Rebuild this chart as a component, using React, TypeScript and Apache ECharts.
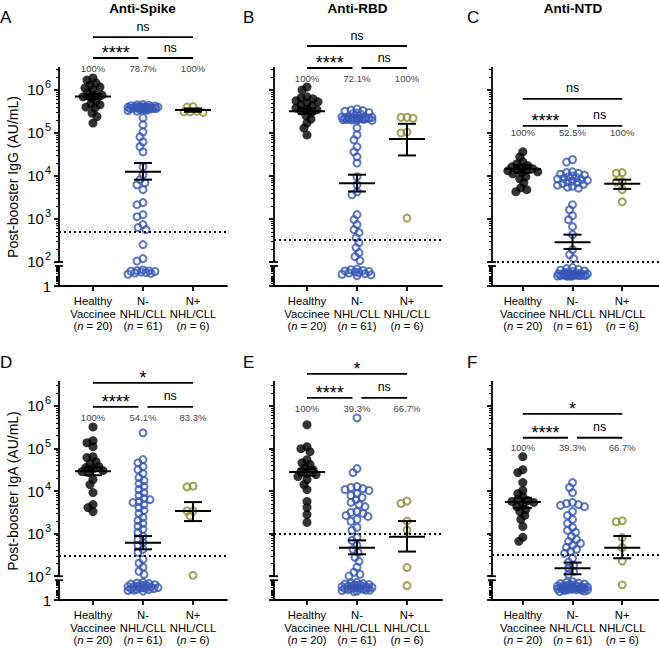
import React, { useEffect, useRef } from "react";
import * as echarts from "echarts";

const FONT = "'Liberation Sans', Arial, Helvetica, sans-serif";
const BLUE = "#3756b5";
const OLIVE = "#8c8c2a";

// ---------- categories / labels ----------
const groupLines = [["Healthy", "Vaccinee"], ["N-", "NHL/CLL"], ["N+", "NHL/CLL"]];
const groupN = [20, 61, 6];
const panelLetters = ["A", "B", "C", "D", "E", "F"];
const panelTitles = ["Anti-Spike", "Anti-RBD", "Anti-NTD"];
const yTitles = ["Post-booster IgG (AU/mL)", "Post-booster IgA (AU/mL)"];
const yTickValues = [1, 1e2, 1e3, 1e4, 1e5, 1e6];

// ---------- A: IgG anti-Spike ----------
const igGSpikeHealthy = [1.9e6, 1.7e6, 1.45e6, 1.3e6, 1.17e6, 1.11e6, 1.0e6, 8.5e5, 7.7e5, 7.6e5, 6.9e5, 6.5e5, 5.6e5, 4.7e5, 4.5e5, 4.0e5, 3.8e5, 2.9e5, 2.4e5, 1.7e5];
const igGSpikeNeg = [4.6e5, 4.5e5, 4.4e5, 4.3e5, 4.2e5, 4.2e5, 4.1e5, 4.1e5, 4.0e5, 4.0e5, 4.0e5, 3.9e5, 3.9e5, 3.9e5, 3.8e5, 3.8e5, 3.8e5, 3.8e5, 3.7e5, 3.7e5, 3.7e5, 3.6e5, 3.6e5, 3.5e5, 3.5e5, 3.4e5, 3.3e5, 3.2e5,
  2.24e5, 1.54e5, 1.06e5, 8.1e4, 6.2e4, 4.8e4, 3.65e4, 1.63e4, 1.07e4, 8.2e3, 6.95e3, 6.25e3, 4.8e3, 2.4e3, 2.15e3, 1.26e3, 1.13e3, 740, 630, 565,
  254, 120, 105, 40, 35, 32, 30, 28, 25, 22, 20, 18, 15];
const igGSpikePos = [4.0e5, 3.1e5, 3.0e5, 3.2e5, 3.1e5, 4.1e5];
const igGSpikeErr = [[7.0e5, 6.1e5, 8.0e5], [1.25e4, 8.2e3, 2.0e4], [3.4e5, 3.1e5, 3.7e5]]; // [mean, lower, upper]

// ---------- B: IgG anti-RBD ----------
const igGRbdHealthy = [1.17e6, 1.0e6, 6.9e5, 6.5e5, 6.2e5, 5.6e5, 5.3e5, 5.0e5, 4.5e5, 4.25e5, 3.8e5, 3.6e5, 3.45e5, 3.25e5, 2.9e5, 2.5e5, 2.1e5, 1.7e5, 1.3e5, 9.0e4];
const igGRbdNeg = [3.6e5, 3.4e5, 3.3e5, 3.2e5, 3.0e5, 2.9e5, 2.8e5, 2.7e5,
  2.4e5, 2.35e5, 2.3e5, 2.3e5, 2.25e5, 2.25e5, 2.2e5, 2.2e5, 2.2e5, 2.15e5, 2.15e5, 2.1e5, 2.1e5, 2.1e5, 2.05e5, 2.05e5, 2.0e5, 2.0e5, 1.95e5,
  1.31e5, 9.0e4, 6.9e4, 4.75e4, 3.64e4, 2.79e4, 2.0e4, 9.6e3, 6.25e3, 4.3e3, 3.66e3, 1.26e3, 964, 738, 565, 481, 368,
  282, 216, 165, 133, 108, 50, 42, 36, 32, 28, 25, 22, 20, 17, 15, 13, 11];
const igGRbdPos = [2.3e5, 2.2e5, 2.3e5, 1.0e5, 1.05e5, 1.05e3];
const igGRbdErr = [[3.2e5, 2.8e5, 3.7e5], [6.8e3, 4.35e3, 1.07e4], [7.2e4, 3.0e4, 1.63e5]];

// ---------- C: IgG anti-NTD ----------
const igGNtdHealthy = [3.65e4, 2.79e4, 2.13e4, 1.92e4, 1.73e4, 1.63e4, 1.55e4, 1.47e4, 1.39e4, 1.36e4, 1.32e4, 1.25e4, 1.19e4, 1.12e4, 9.6e3, 8.6e3, 6.95e3, 5.3e3, 4.8e3, 4.3e3];
const igGNtdNeg = [2.4e4, 2.1e4, 1.25e4, 1.2e4, 1.15e4, 1.1e4, 1.05e4, 1.0e4, 9.6e3, 9.2e3, 8.8e3, 8.5e3, 8.2e3, 7.9e3, 7.6e3, 7.3e3, 7.0e3, 6.7e3, 6.4e3, 6.1e3, 5.8e3, 5.5e3, 5.2e3,
  2.15e3, 1.64e3, 1.19e3, 964, 663, 432, 194, 149, 120,
  70, 55, 45, 38, 32, 28, 25, 22, 20, 18, 17, 16, 15, 15, 14, 14, 13, 13, 12, 12, 12, 11, 11, 11, 10, 10, 10, 10, 10];
const igGNtdPos = [1.2e4, 1.15e4, 7.4e3, 7.2e3, 4.8e3, 2.5e3];
const igGNtdErr = [[1.45e4, 1.19e4, 1.8e4], [286, 201, 432], [6.6e3, 5.0e3, 8.2e3]];

// ---------- D: IgA anti-Spike ----------
const igASpikeHealthy = [3.2e5, 1.52e5, 1.36e5, 1.1e5, 6.4e4, 6.1e4, 4.9e4, 4.4e4, 3.74e4, 3.55e4, 3.36e4, 3.0e4, 2.86e4, 2.71e4, 1.86e4, 1.42e4, 9.2e3, 4.8e3, 4.1e3, 3.3e3];
const igASpikeNeg = [2.33e5, 5.46e4, 4.6e4, 3.74e4, 3.18e4, 2.57e4, 2.07e4, 1.76e4, 1.5e4, 1.27e4, 1.08e4, 9.2e3, 7.85e3, 6.7e3, 6.3e3, 5.7e3, 5.4e3, 4.8e3, 4.1e3, 3.5e3, 2.98e3, 2.4e3, 2.04e3, 1.74e3, 1.48e3, 1.26e3, 1.07e3, 863, 733, 624, 531, 428, 364,
  250, 202, 163, 131, 111,
  60, 50, 45, 40, 35, 32, 30, 28, 25, 23, 22, 20, 18, 17, 16, 15, 14, 13, 12, 11, 10, 9, 8];
const igASpikePos = [1.25e4, 1.3e4, 3.4e3, 3.4e3, 2.6e3, 105];
const igASpikeErr = [[2.9e4, 2.35e4, 3.6e4], [614, 428, 877], [3.4e3, 1.97e3, 5.5e3]];

// ---------- E: IgA anti-RBD ----------
const igARbdHealthy = [3.6e5, 1.1e5, 9.9e4, 8.4e4, 5.46e4, 4.6e4, 4.2e4, 3.55e4, 3.18e4, 2.86e4, 2.57e4, 2.43e4, 2.18e4, 1.86e4, 1.42e4, 1.08e4, 5.7e3, 4.1e3, 2.8e3, 1.83e3];
const igARbdNeg = [5.2e5, 3.36e4, 2.71e4, 1.27e4, 1.21e4, 1.14e4, 1.08e4, 1.03e4, 8.7e3, 7.85e3, 7.05e3, 6.3e3, 5.4e3, 4.8e3, 4.3e3, 3.3e3, 3.14e3, 2.98e3, 2.67e3, 2.53e3, 2.15e3, 1.94e3, 1.4e3, 1.19e3,
  817, 695, 531, 428, 364, 278, 224, 163, 124, 111, 101,
  60, 50, 45, 40, 36, 33, 30, 28, 26, 24, 22, 20, 19, 18, 17, 16, 15, 14, 13, 12, 11, 10, 10, 9, 8, 7];
const igARbdPos = [5.1e3, 5.8e3, 1.97e3, 1.21e3, 160, 28];
const igARbdErr = [[2.8e4, 2.3e4, 3.3e4], [469, 327, 695], [849, 379, 1.97e3]];

// ---------- F: IgA anti-NTD ----------
const igANtdHealthy = [6.4e4, 3.18e4, 2.71e4, 1.58e4, 1.03e4, 8.7e3, 7.4e3, 6.3e3, 6.0e3, 5.7e3, 5.4e3, 4.8e3, 4.3e3, 3.7e3, 3.3e3, 2.67e3, 2.15e3, 1.48e3, 817, 659];
const igANtdNeg = [1.58e4, 1.21e4, 9.2e3, 5.4e3, 5.1e3, 4.8e3, 4.6e3, 4.3e3, 3.3e3, 2.67e3, 2.15e3, 1.74e3, 1.4e3, 1.19e3, 1.07e3, 863, 733, 659, 592, 531, 476, 428, 385, 345,
  264, 213, 181, 154, 131, 111,
  70, 60, 50, 45, 40, 36, 33, 30, 28, 26, 24, 22, 21, 20, 19, 18, 17, 16, 15, 14, 13, 13, 12, 12, 11, 11, 10, 10, 9, 8, 7];
const igANtdPos = [1.9e3, 2.0e3, 804, 469, 228, 33];
const igANtdErr = [[5.5e3, 4.0e3, 6.9e3], [154, 111, 209], [469, 264, 877]];

// ---------- per-panel annotations ----------
const thresholds = [500, 331, 100, 310, 1000, 315];
const percentLabels = [
  ["100%", "78.7%", "100%"], ["100%", "72.1%", "100%"], ["100%", "52.5%", "100%"],
  ["100%", "54.1%", "83.3%"], ["100%", "39.3%", "66.7%"], ["100%", "39.3%", "66.7%"],
];
const sigLabels = [
  ["ns", "****", "ns"], ["ns", "****", "ns"], ["ns", "****", "ns"],
  ["*", "****", "ns"], ["*", "****", "ns"], ["*", "****", "ns"],
];
// heights on the log10 scale: [top bracket, lower brackets, percentages]
const annotationLevels = [
  [7.23, 6.742, 6.487], [7.021, 6.51, 6.255], [5.791, 5.165, 5.002],
  [6.538, 5.977, 5.719], [6.749, 6.187, 5.93], [5.813, 5.251, 5.018],
];

const panelGroups = [
  [igGSpikeHealthy, igGSpikeNeg, igGSpikePos], [igGRbdHealthy, igGRbdNeg, igGRbdPos], [igGNtdHealthy, igGNtdNeg, igGNtdPos],
  [igASpikeHealthy, igASpikeNeg, igASpikePos], [igARbdHealthy, igARbdNeg, igARbdPos], [igANtdHealthy, igANtdNeg, igANtdPos],
];
const panelErrs = [igGSpikeErr, igGRbdErr, igGNtdErr, igASpikeErr, igARbdErr, igANtdErr];

// ---------- broken log scale ----------
const LOWER_K = 0.2326;
const LOW_TOP = 2 - 4 / 43;
const Y_MIN_T = LOW_TOP - 2 * LOWER_K;
function toT(v: number): number {
  return v >= 100 ? Math.log10(v) : Y_MIN_T + LOWER_K * Math.log10(Math.max(v, 1));
}

// ---------- layout ----------
const GRID_LEFT = [59, 274, 492];
const GRID_TOP = [68, 382];
const GRID_W = 168;
const GRID_H = 218;
const X_MIN = [0.32, 0.34, 0.38];
const X_SPAN = 3.36;
const Y_MAX = [6.51, 6.56];

function swarm(ts: number[], center: number, pxX: number, pxY: number): number[] {
  const dMin = 5.6;
  const maxHalf = 15;
  const order = ts.map((_, i) => i).sort((a, b) => ts[b] - ts[a]);
  const placed: { x: number; y: number }[] = [];
  const xs = new Array(ts.length).fill(center);
  for (const i of order) {
    const y = ts[i] * pxY;
    let best = 0;
    let bestScore = -Infinity;
    for (let k = 0; k <= 2 * maxHalf; k++) {
      const off = (k % 2 === 0 ? 1 : -1) * Math.ceil(k / 2);
      let md = Infinity;
      for (const p of placed) {
        const dd = Math.hypot(p.x - off, p.y - y);
        if (dd < md) md = dd;
      }
      if (md >= dMin) { best = off; break; }
      if (md > bestScore + 0.6) { bestScore = md; best = off; }
    }
    placed.push({ x: best, y });
    xs[i] = center + best / pxX;
  }
  return xs;
}

function txt(s: string, x: number, y: number, size: number, color: string, weight = "normal") {
  return {
    type: "text", x, y,
    style: {
      text: s, fill: color, fontSize: size, fontFamily: FONT, fontWeight: weight,
      align: "center", verticalAlign: "middle", textAlign: "center", textVerticalAlign: "middle",
    },
  };
}

function buildOption() {
  const grid: any[] = [];
  const xAxis: any[] = [];
  const yAxis: any[] = [];
  const series: any[] = [];
  const graphicEls: any[] = [];

  const majorT = yTickValues.map(toT);

  for (let p = 0; p < 6; p++) {
    const row = Math.floor(p / 3);
    const col = p % 3;
    const xmin = X_MIN[col];
    const xmax = xmin + X_SPAN;
    const ymax = Y_MAX[row];
    const pxX = GRID_W / X_SPAN;
    const pxY = GRID_H / (ymax - Y_MIN_T);

    const minorT: number[] = [];
    for (let d = 0; d <= 1; d++) for (let k = 2; k <= 10; k++) minorT.push(toT(k * Math.pow(10, d) * (d === 1 && k === 10 ? 0.9999 : 1)));
    for (let d = 2; d <= 6; d++) for (let k = 2; k <= 9; k++) { const t = Math.log10(k * Math.pow(10, d)); if (t <= ymax) minorT.push(t); }

    grid.push({ left: GRID_LEFT[col], top: GRID_TOP[row], width: GRID_W, height: GRID_H, containLabel: false });

    xAxis.push({
      gridIndex: p, type: "value", min: xmin, max: xmax,
      axisLine: { show: true, onZero: false, lineStyle: { color: "#000", width: 1.8 } },
      axisTick: { show: true, customValues: [1, 2, 3], length: 5, lineStyle: { color: "#000", width: 1.8 } },
      axisLabel: {
        show: true, customValues: [1, 2, 3], margin: 9, color: "#000", fontSize: 11.3, lineHeight: 12.5, fontFamily: FONT,
        formatter: (v: number) => {
          const i = Math.round(v) - 1;
          return `${groupLines[i][0]}\n${groupLines[i][1]}\n({i|n} = ${groupN[i]})`;
        },
        rich: { i: { fontStyle: "italic", fontSize: 11.3, lineHeight: 12.5, fontFamily: FONT, color: "#000" } },
      },
      splitLine: { show: false },
    });

    yAxis.push({
      gridIndex: p, type: "value", min: Y_MIN_T, max: ymax, position: "left",
      axisLine: { show: false, onZero: false },
      axisTick: { show: true, customValues: majorT, length: 5, lineStyle: { color: "#000", width: 1.8 } },
      axisLabel: {
        show: col === 0, customValues: majorT, margin: 8, color: "#000", fontFamily: FONT,
        formatter: (v: number) => {
          if (Math.abs(v - Y_MIN_T) < 1e-6) return "{b|1}";
          return `{b|10}{s|${Math.round(v)}}`;
        },
        rich: {
          b: { fontSize: 15, lineHeight: 22, fontFamily: FONT, color: "#000" },
          s: { fontSize: 11, lineHeight: 11, verticalAlign: "top", fontFamily: FONT, color: "#000", padding: [0, 0, 0, 1] },
        },
      },
      splitLine: { show: false },
      name: col === 0 ? yTitles[row] : "",
      nameLocation: "middle", nameGap: 39,
      nameTextStyle: { fontSize: 14, color: "#000", fontFamily: FONT },
    });
    yAxis.push({
      gridIndex: p, type: "value", min: Y_MIN_T, max: ymax, position: "left",
      axisLine: { show: false, onZero: false },
      axisTick: { show: true, customValues: minorT, length: 3, lineStyle: { color: "#000", width: 1.1 } },
      axisLabel: { show: false },
      splitLine: { show: false },
    });

    const yIdx = 2 * p;

    // broken y axis line
    series.push({
      type: "custom", xAxisIndex: p, yAxisIndex: yIdx, silent: true, clip: false, z: 4,
      data: [[xmin, ymax]],
      renderItem: (_params: any, api: any) => {
        const top = api.coord([xmin, ymax]);
        const b1 = api.coord([xmin, 2]);
        const b2 = api.coord([xmin, LOW_TOP]);
        const bot = api.coord([xmin, Y_MIN_T]);
        const st = { stroke: "#000", lineWidth: 1.8 };
        return {
          type: "group", children: [
            { type: "line", shape: { x1: top[0], y1: top[1] - 0.9, x2: b1[0], y2: b1[1] }, style: st },
            { type: "line", shape: { x1: b1[0] - 4, y1: b1[1], x2: b1[0] + 4, y2: b1[1] }, style: st },
            { type: "line", shape: { x1: b2[0] - 4, y1: b2[1], x2: b2[0] + 4, y2: b2[1] }, style: st },
            { type: "line", shape: { x1: b2[0], y1: b2[1], x2: bot[0], y2: bot[1] + 0.9 }, style: st },
          ],
        };
      },
    });

    // points
    panelGroups[p].forEach((vals, g) => {
      const ts = vals.map(toT);
      const xs = swarm(ts, g + 1, pxX, pxY);
      const s: any = {
        type: "scatter", xAxisIndex: p, yAxisIndex: yIdx, silent: true, z: 3,
        symbol: "circle",
        symbolSize: g === 0 ? 9 : 7,
        itemStyle: g === 0
          ? { color: "#000" }
          : { color: "rgba(255,255,255,0)", borderColor: g === 1 ? BLUE : OLIVE, borderWidth: 2 },
        data: ts.map((t, i) => [xs[i], t]),
      };
      if (g === 0) {
        s.markLine = {
          silent: true, symbol: ["none", "none"], label: { show: false },
          lineStyle: { color: "#000", type: [2, 3], width: 2 },
          data: [{ yAxis: toT(thresholds[p]) }],
        };
      }
      series.push(s);
    });

    // mean and error bars
    series.push({
      type: "custom", xAxisIndex: p, yAxisIndex: yIdx, silent: true, z: 5,
      data: panelErrs[p].map((e, g) => [g + 1, toT(e[0]), toT(e[1]), toT(e[2])]),
      encode: { x: 0, y: [1, 2, 3] },
      renderItem: (_params: any, api: any) => {
        const x = api.value(0);
        const m = api.coord([x, api.value(1)]);
        const lo = api.coord([x, api.value(2)]);
        const hi = api.coord([x, api.value(3)]);
        const st = { stroke: "#000", lineWidth: 2 };
        return {
          type: "group", children: [
            { type: "line", shape: { x1: m[0] - 18, y1: m[1], x2: m[0] + 18, y2: m[1] }, style: st },
            { type: "line", shape: { x1: lo[0], y1: lo[1], x2: hi[0], y2: hi[1] }, style: st },
            { type: "line", shape: { x1: hi[0] - 9, y1: hi[1], x2: hi[0] + 9, y2: hi[1] }, style: st },
            { type: "line", shape: { x1: lo[0] - 9, y1: lo[1], x2: lo[0] + 9, y2: lo[1] }, style: st },
          ],
        };
      },
    });

    // significance brackets and percentages
    const [tTop, tRow2, tPct] = annotationLevels[p];
    const sig = sigLabels[p];
    const pct = percentLabels[p];
    series.push({
      type: "custom", xAxisIndex: p, yAxisIndex: yIdx, silent: true, clip: false, z: 6,
      data: [[2, tTop]],
      renderItem: (_params: any, api: any) => {
        const st = { stroke: "#000", lineWidth: 1.8 };
        const ch: any[] = [];
        const seg = (x1: number, x2: number, t: number, label: string) => {
          const a = api.coord([x1, t]);
          const b = api.coord([x2, t]);
          ch.push({ type: "line", shape: { x1: a[0], y1: a[1], x2: b[0], y2: b[1] }, style: st });
          const star = label.indexOf("*") >= 0;
          ch.push(txt(label, (a[0] + b[0]) / 2, a[1] - (star ? 5 : 10.5), star ? 18 : 12.5, "#000"));
        };
        seg(1, 3, tTop, sig[0]);
        seg(1, 1.91, tRow2, sig[1]);
        seg(2.09, 3, tRow2, sig[2]);
        for (let g = 0; g < 3; g++) {
          const c = api.coord([g + 1, tPct]);
          ch.push(txt(pct[g], c[0], c[1], 9.5, "#444"));
        }
        return { type: "group", children: ch };
      },
    });

    // panel letter
    const letterX = [0, 243, 467][col];
    const letterY = [19, 364][row];
    graphicEls.push({
      type: "text", left: letterX, top: letterY - 10,
      style: { text: panelLetters[p], fontSize: 17, fontFamily: FONT, fill: "#000" },
    });
  }

  // panel titles
  const titleX = [142.5, 357.5, 573];
  panelTitles.forEach((t, i) => {
    graphicEls.push({
      type: "text", x: titleX[i], y: 8.5,
      style: {
        text: t, fontSize: 13.5, fontWeight: "bold", fontFamily: FONT, fill: "#000",
        align: "center", verticalAlign: "middle", textAlign: "center", textVerticalAlign: "middle",
      },
    });
  });

  return {
    animation: false,
    backgroundColor: "#fff",
    grid, xAxis, yAxis, series,
    graphic: { elements: graphicEls },
  };
}

export default function App() {
  const ref = useRef<HTMLDivElement>(null);
  useEffect(() => {
    if (!ref.current) return;
    const chart = echarts.init(ref.current, null, { renderer: "svg" });
    chart.setOption(buildOption() as any);
    return () => chart.dispose();
  }, []);
  return (
    <div
      ref={ref}
      style={{ position: "absolute", left: 0, top: 0, width: 659, height: 648, background: "#fff" }}
    />
  );
}
